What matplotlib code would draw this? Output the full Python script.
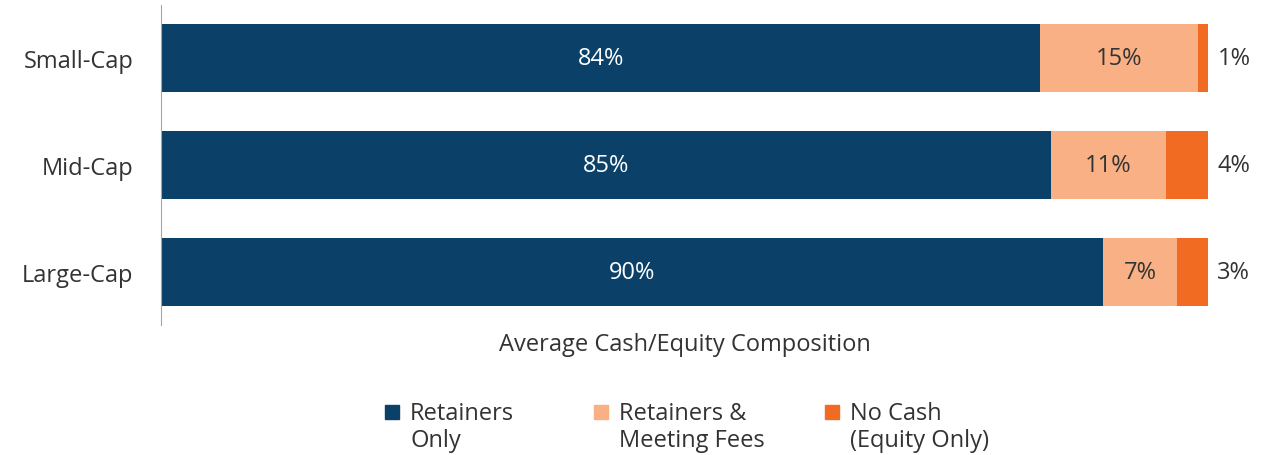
import matplotlib
matplotlib.use("Agg")
import matplotlib.pyplot as plt
from matplotlib.patches import Rectangle

plt.rcParams["font.family"] = ["Open Sans", "DejaVu Sans"]

categories = ["Small-Cap", "Mid-Cap", "Large-Cap"]
series = ["Retainers\nOnly", "Retainers &\nMeeting Fees", "No Cash\n(Equity Only)"]
retainers_only = [84, 85, 90]
retainers_fees = [15, 11, 7]
no_cash = [1, 4, 3]
colors = ["#0B4168", "#F8B084", "#F26B22"]
text_col = "#333333"
fs = 17

fig = plt.figure(figsize=(12.61, 4.56), dpi=100)
ax = fig.add_axes([161 / 1261, 1 - 326 / 456, (1208 - 161) / 1261, 320 / 456])

values = [retainers_only, retainers_fees, no_cash]
y = list(range(len(categories)))
left = [0] * len(categories)
for k, (vals, c) in enumerate(zip(values, colors)):
    bars = ax.barh(y, vals, left=left, height=0.64, color=c)
    for i, (b, v) in enumerate(zip(bars, vals)):
        if k < 2:
            ax.text(left[i] + v / 2, i, f"{v}%", ha="center", va="center",
                    fontsize=fs, color="white" if k == 0 else text_col)
        else:
            ax.text(left[i] + v + 0.9, i, f"{v}%", ha="left", va="center",
                    fontsize=fs, color=text_col)
    left = [l + v for l, v in zip(left, vals)]

ax.set_xlim(0, 100)
ax.set_ylim(2.5, -0.5)
ax.set_yticks(y)
ax.set_yticklabels(categories, fontsize=fs, color=text_col)
ax.tick_params(axis="y", length=0, pad=20)
ax.set_xticks([])
for s in ["top", "right", "bottom"]:
    ax.spines[s].set_visible(False)
ax.spines["left"].set_color("#A6A6A6")
ax.set_xlabel("Average Cash/Equity Composition", fontsize=fs,
              color=text_col, labelpad=5)

# legend drawn by hand so the swatch sits on the first text line
sw_x = [385, 594, 825]
for name, c, x in zip(series, colors, sw_x):
    fig.patches.append(Rectangle((x / 1261, 1 - 420 / 456), 14 / 1261, 14 / 456,
                                 transform=fig.transFigure, color=c))
    fig.text((x + 25) / 1261, 1 - 402 / 456, name, ha="left", va="top",
             fontsize=fs, color=text_col, linespacing=1.15)

fig.savefig("out.png", dpi=100)
